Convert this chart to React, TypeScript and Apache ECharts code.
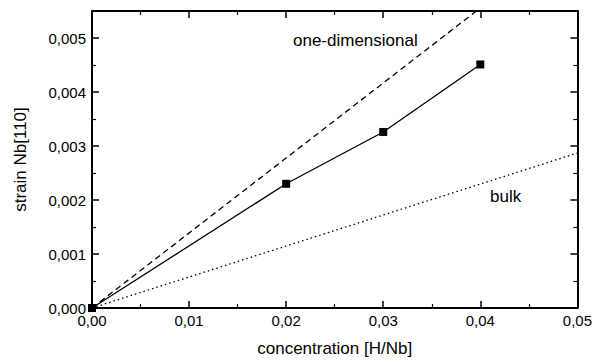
import React, { useEffect, useRef } from "react";
import * as echarts from "echarts";

const measuredConc = [0, 0.02, 0.03, 0.04];
const measuredStrain = [0, 0.0023, 0.00326, 0.00451];
const oneDimConc = [0, 0.0396];
const oneDimStrain = [0, 0.0055];
const bulkConc = [0, 0.05];
const bulkStrain = [0, 0.00287];

const xTitle = "concentration [H/Nb]";
const yTitle = "strain Nb[110]";
const oneDimLabel = "one-dimensional";
const bulkLabel = "bulk";

const FONT = "'Liberation Sans', Arial, sans-serif";

function pairs(xs: number[], ys: number[]) {
  return xs.map((x, i) => [x, ys[i]]);
}

function fmtX(v: number) {
  if (Math.abs(v * 100 - Math.round(v * 100)) > 1e-6) return "";
  return v.toFixed(2).replace(".", ",");
}
function fmtY(v: number) {
  if (Math.abs(v * 1000 - Math.round(v * 1000)) > 1e-6) return "";
  return v.toFixed(3).replace(".", ",");
}

export default function App() {
  const ref = useRef<HTMLDivElement>(null);
  useEffect(() => {
    if (!ref.current) return;
    const chart = echarts.init(ref.current, null, { renderer: "svg" });
    const axisLine = { show: true, onZero: false, lineStyle: { color: "#000", width: 2 } };
    const tick = { show: true, inside: true, length: 7, lineStyle: { color: "#000", width: 1.5 } };
    const minor = { show: true, splitNumber: 2, length: 4, lineStyle: { color: "#000", width: 1.2 } };
    chart.setOption({
      animation: false,
      backgroundColor: "#fff",
      grid: { left: 92, right: 15, top: 11, bottom: 49, containLabel: false },
      xAxis: [
        {
          type: "value",
          min: 0,
          max: 0.05,
          interval: 0.01,
          position: "bottom",
          axisLine,
          axisTick: tick,
          minorTick: minor,
          splitLine: { show: false },
          axisLabel: {
            formatter: fmtX,
            color: "#000",
            fontSize: 15,
            fontFamily: FONT,
            margin: 5,
          },
          name: xTitle,
          nameLocation: "middle",
          nameGap: 32,
          nameTextStyle: { color: "#000", fontSize: 17, fontFamily: FONT },
        },
        {
          type: "value",
          min: 0,
          max: 0.05,
          interval: 0.01,
          position: "top",
          axisLine,
          axisTick: tick,
          minorTick: minor,
          splitLine: { show: false },
          axisLabel: { show: false },
        },
      ],
      yAxis: [
        {
          type: "value",
          min: 0,
          max: 0.0055,
          interval: 0.001,
          position: "left",
          axisLine,
          axisTick: tick,
          minorTick: minor,
          splitLine: { show: false },
          axisLabel: {
            formatter: fmtY,
            color: "#000",
            fontSize: 15,
            fontFamily: FONT,
            margin: 6,
          },
          name: yTitle,
          nameLocation: "middle",
          nameGap: 63,
          nameTextStyle: { color: "#000", fontSize: 17, fontFamily: FONT },
        },
        {
          type: "value",
          min: 0,
          max: 0.0055,
          interval: 0.001,
          position: "right",
          axisLine,
          axisTick: tick,
          minorTick: minor,
          splitLine: { show: false },
          axisLabel: { show: false },
        },
      ],
      series: [
        {
          type: "line",
          data: pairs(oneDimConc, oneDimStrain),
          showSymbol: false,
          symbol: "none",
          lineStyle: { color: "#000", width: 1.3, type: [6, 4] },
          silent: true,
        },
        {
          type: "line",
          data: pairs(bulkConc, bulkStrain),
          showSymbol: false,
          symbol: "none",
          lineStyle: { color: "#000", width: 1.3, type: [1.5, 3] },
          silent: true,
        },
        {
          type: "line",
          data: pairs(measuredConc, measuredStrain),
          symbol: "rect",
          symbolSize: 8,
          showSymbol: true,
          clip: false,
          smooth: false,
          itemStyle: { color: "#000" },
          lineStyle: { color: "#000", width: 1.3 },
          silent: true,
        },
      ],
      graphic: [
        {
          type: "text",
          left: 293,
          top: 32,
          style: { text: oneDimLabel, fontSize: 17, fontFamily: FONT, fill: "#000" },
        },
        {
          type: "text",
          left: 490,
          top: 188,
          style: { text: bulkLabel, fontSize: 17, fontFamily: FONT, fill: "#000" },
        },
      ],
    });
    return () => chart.dispose();
  }, []);
  return (
    <div
      ref={ref}
      style={{ position: "fixed", left: 0, top: 0, width: 595, height: 362, background: "#fff" }}
    />
  );
}
